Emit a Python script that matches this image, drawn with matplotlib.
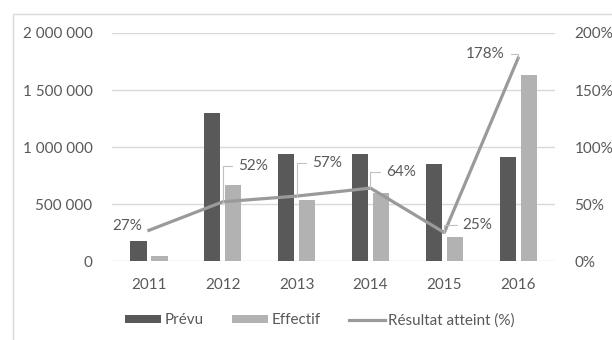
import matplotlib.pyplot as plt
import numpy as np
from matplotlib.patches import Rectangle
from matplotlib.ticker import FuncFormatter

plt.rcParams['font.family'] = ['Lato', 'DejaVu Sans']

years = ['2011', '2012', '2013', '2014', '2015', '2016']
prevu = [175000, 1300000, 940000, 935000, 850000, 915000]
effectif = [45000, 670000, 535000, 600000, 212000, 1630000]
resultat = [27, 52, 57, 64, 25, 178]

# label offsets (points) relative to each line point
label_offsets = [(-5, 3), (11, 26), (11, 24), (11, 11.5), (13, 5.5), (-9.5, 3)]
leader = [False, True, True, True, True, True]

c_prevu = '#595959'
c_eff = '#b2b2b2'
c_line = '#9a9a9a'
c_text = '#595959'
c_grid = '#d9d9d9'
fs = 11

fig = plt.figure(figsize=(6.12, 3.4), dpi=100)
ax = fig.add_axes([0.183, 0.232, 0.724, 0.671])
ax2 = ax.twinx()

x = np.arange(len(years))
w = 0.22
ax.bar(x - 0.142, prevu, w, color=c_prevu, label='Prévu', zorder=2)
ax.bar(x + 0.142, effectif, w, color=c_eff, label='Effectif', zorder=2)

ax.set_ylim(0, 2000000)
ax.set_yticks([0, 500000, 1000000, 1500000, 2000000])
ax.yaxis.set_major_formatter(FuncFormatter(lambda v, p: f'{int(v):,}'.replace(',', ' ')))
ax.set_xlim(-0.5, len(years) - 0.5)
ax.set_xticks(x)
ax.set_xticklabels(years)
ax.grid(axis='y', color=c_grid, linewidth=1, zorder=0)
ax.set_axisbelow(True)

ax2.plot(x, resultat, color=c_line, linewidth=2.3, label='Résultat atteint (%)', zorder=3)
ax2.set_ylim(0, 200)
ax2.set_yticks([0, 50, 100, 150, 200])
ax2.yaxis.set_major_formatter(FuncFormatter(lambda v, p: f'{int(v)}%'))

for a in (ax, ax2):
    for s in a.spines.values():
        s.set_visible(False)
    a.tick_params(length=0, labelsize=fs, colors=c_text)
ax.tick_params(axis='x', pad=12)
ax.tick_params(axis='y', pad=14)
ax2.tick_params(axis='y', pad=14)

for xi, v, off, ld in zip(x, resultat, label_offsets, leader):
    ha = 'left' if off[0] > 0 else 'right'
    if ld:
        arrow = dict(arrowstyle='-', color='#bfbfbf', linewidth=0.8, shrinkA=2, shrinkB=0,
                     connectionstyle='angle,angleA=0,angleB=90,rad=0')
    else:
        arrow = None
    ax2.annotate(f'{v}%', xy=(xi, v), xytext=off, textcoords='offset points',
                 ha=ha, va='center', fontsize=fs, color=c_text, arrowprops=arrow)

h1, l1 = ax.get_legend_handles_labels()
h2, l2 = ax2.get_legend_handles_labels()
fig.legend(h1 + h2, l1 + l2, loc='center', bbox_to_anchor=(0.523, 0.058), ncol=3,
           frameon=False, fontsize=fs, labelcolor=c_text, handlelength=2.35,
           handleheight=0.45, handletextpad=0.2, columnspacing=1.9)

# outer chart frame
fig.add_artist(Rectangle((13 / 612, -0.2), 1.2, 0.2 + 1 - 14 / 340,
                         transform=fig.transFigure, fill=False,
                         edgecolor=c_grid, linewidth=1))

fig.savefig('out.png', dpi=100)
